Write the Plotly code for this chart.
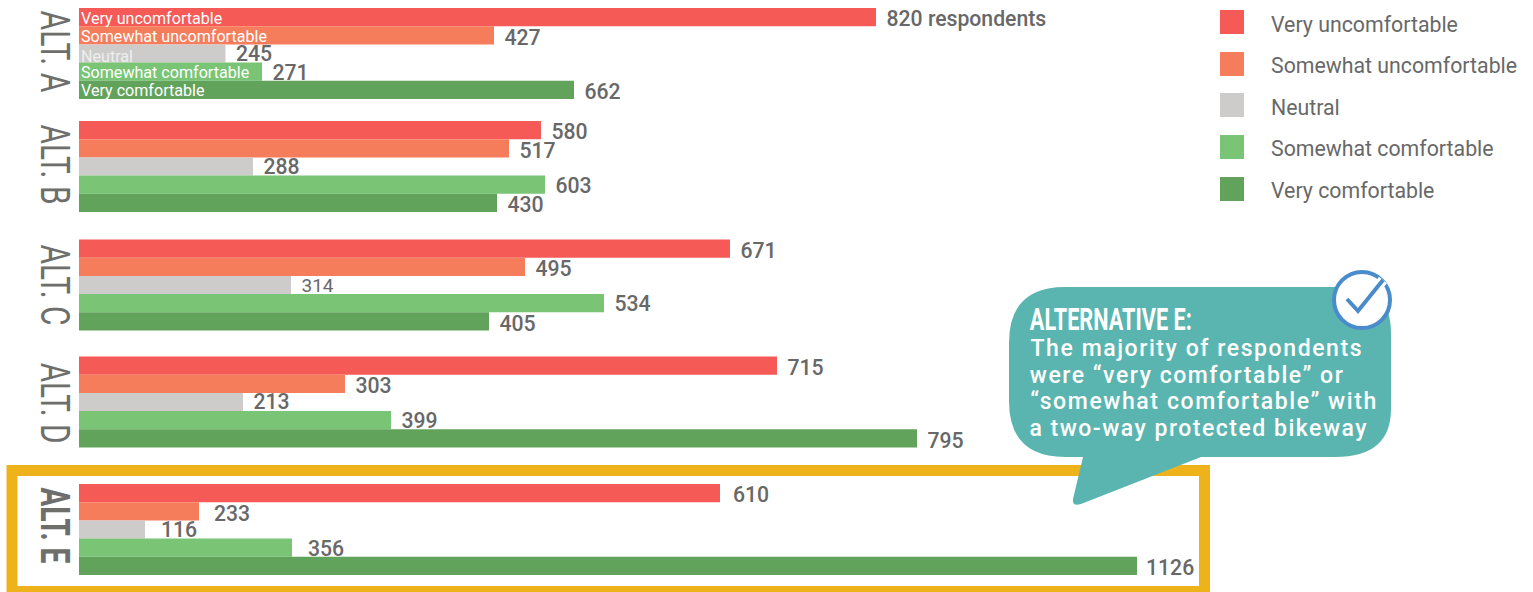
import json
import plotly.graph_objects as go

alternatives = ["ALT. A", "ALT. B", "ALT. C", "ALT. D", "ALT. E"]
alt_label_centres = [51, 164.5, 284.5, 402.5, 525]
alt_label_lengths = [82, 80, 81, 81, 76]
group_centres = [53.5, 166.5, 285, 402, 529.5]
categories = ["Very uncomfortable", "Somewhat uncomfortable", "Neutral", "Somewhat comfortable", "Very comfortable"]
colors = ["#F55A56", "#F67D5B", "#CDCCCB", "#79C475", "#62A35B"]
swatch_rows = [22, 64, 105, 147, 189]
legend_text_rows = [27, 68, 110, 151, 193]

# printed values
very_uncomfortable = [820, 580, 671, 715, 610]
somewhat_uncomfortable = [427, 517, 495, 303, 233]
neutral = [245, 288, 314, 213, 116]
somewhat_comfortable = [271, 603, 534, 399, 356]
very_comfortable = [662, 430, 405, 795, 1126]
printed = [very_uncomfortable, somewhat_uncomfortable, neutral, somewhat_comfortable, very_comfortable]

# bar lengths as drawn in the picture (the original is not to scale)
drawn_very_uncomfortable = [797, 462, 651, 698, 641]
drawn_somewhat_uncomfortable = [415, 430, 446, 266, 120]
drawn_neutral = [146.5, 174, 212, 164, 66]
drawn_somewhat_comfortable = [183, 466, 525, 312, 213]
drawn_very_comfortable = [495, 418, 410, 838, 1058]
drawn = [drawn_very_uncomfortable, drawn_somewhat_uncomfortable, drawn_neutral,
         drawn_somewhat_comfortable, drawn_very_comfortable]

# label placement relative to each bar
label_gap = [10.5, 10.5, 10.5, 10.5]
label_gap_last_group = [13, 15, 16, 16, 9]
label_nudge = [4, 4, 2, 3, 4]
inbar_nudge = [1, 1, 2.5, 1, 0.5]

callout_title = "ALTERNATIVE E:"
callout_lines = ["The majority of respondents", "were “very comfortable” or",
                 "“somewhat comfortable” with", "a two-way protected bikeway"]
callout_widths = [331, 313, 346, 337]

TXT = "#686868"
BAND = 18.2
ORIGIN = 79  # page pixel of the value axis zero


def X(px):
    return px - ORIGIN


def P(*pts):
    out = []
    for p in pts:
        if isinstance(p, str):
            out.append(p)
        else:
            out.append(f"{X(p[0])} {p[1]}")
    return " ".join(out)


fig = go.Figure()

for s, name in enumerate(categories):
    fig.add_trace(go.Bar(
        name=name, orientation="h", x=drawn[s], y=group_centres,
        marker=dict(color=colors[s], line=dict(width=0)), showlegend=False,
    ))

for s, name in enumerate(categories):
    gaps = label_gap + [label_gap_last_group[s]]
    labels = [str(v) for v in printed[s]]
    if s == 0:
        labels[0] += " respondents"
    fig.add_trace(go.Scatter(
        x=[d + g for d, g in zip(drawn[s], gaps)],
        y=[c + (s - 2) * BAND + label_nudge[s] for c in group_centres],
        mode="text", text=labels, textposition="middle right", showlegend=False, cliponaxis=False,
        textfont=dict(family="Roboto", size=[19 if v == 314 else 21.2 for v in printed[s]], color=TXT,
                      weight=[400 if v == 314 else 500 for v in printed[s]]),
    ))

# legend drawn as chart marks
fig.add_trace(go.Scatter(x=[X(1232)] * 5, y=swatch_rows, mode="markers", showlegend=False,
                         marker=dict(symbol="square", size=24, color=colors, line=dict(width=0))))
fig.add_trace(go.Scatter(x=[X(1271)] * 5, y=legend_text_rows, mode="text", text=categories, showlegend=False,
                         textposition="middle right",
                         textfont=dict(family="Roboto", size=21.3, color=TXT)))

annotations = []
for a, c in zip(alternatives, alt_label_centres):
    annotations.append(dict(x=X(55), y=c, xref="x", yref="y", text=a, textangle=90, showarrow=False,
                            xanchor="center", yanchor="middle",
                            font=dict(family="Roboto", size=41, color="#6E6E6C",
                                      weight=700 if a.endswith("E") else 400)))
# in-bar category labels for the first group
for i, name in enumerate(categories):
    annotations.append(dict(x=0, y=group_centres[0] + (i - 2) * BAND + inbar_nudge[i], xref="x", yref="y", text=name,
                            showarrow=False, xanchor="left", yanchor="middle",
                            font=dict(family="Roboto", size=16.1, color="#EEEEEE" if i == 2 else "white")))
annotations.append(dict(x=X(1111), y=319, xref="x", yref="y", text=callout_title, showarrow=False,
                        xanchor="center", yanchor="middle",
                        font=dict(family="Roboto", size=31, color="white", weight=700)))
for i, line in enumerate(callout_lines):
    annotations.append(dict(x=X(1030 + callout_widths[i] / 2), y=348.5 + i * 26.6, xref="x", yref="y", text=line,
                            showarrow=False, xanchor="center", yanchor="middle",
                            font=dict(family="Roboto", size=23, color="white", weight=500)))

bubble = P("M", (1060, 287), "L", (1345, 287), "Q", (1391, 287), (1391, 333), "L", (1391, 409), "Q", (1391, 457), (1335, 457),
           "L", (1201, 457), "L", (1081, 504), "Q", (1072, 507), (1073, 499), "L", (1083, 457), "L", (1065, 457),
           "Q", (1009, 457), (1009, 401), "L", (1009, 343), "Q", (1009, 287), (1065, 287), "Z")
check = P("M", (1347, 299), "L", (1358, 311), "L", (1383, 280))
shapes = [
    dict(type="rect", x0=X(12), x1=X(1204.5), y0=470.5, y1=591.5, xref="x", yref="y",
         line=dict(color="#EEB31B", width=11), fillcolor="rgba(0,0,0,0)"),
    dict(type="path", path=bubble, xref="x", yref="y", fillcolor="#5AB5B0", line=dict(width=0)),
    dict(type="circle", x0=X(1334), x1=X(1390), y0=272, y1=328, xref="x", yref="y",
         fillcolor="white", line=dict(color="#4A8CCB", width=4)),
    dict(type="path", path=check, xref="x", yref="y", line=dict(color="white", width=10)),
    dict(type="path", path=check, xref="x", yref="y", line=dict(color="#4A8CCB", width=4)),
]

fig.update_layout(
    width=1533, height=592, margin=dict(l=0, r=0, t=0, b=0),
    paper_bgcolor="white", plot_bgcolor="white",
    barmode="group", bargap=0.195, bargroupgap=0,
    xaxis=dict(range=[-ORIGIN, 1533 - ORIGIN], visible=False, fixedrange=True),
    yaxis=dict(range=[592, 0], visible=False, fixedrange=True),
    annotations=annotations, shapes=shapes, showlegend=False,
)

fit = {a: [n, "spacingAndGlyphs"] for a, n in zip(alternatives, alt_label_lengths)}
fit[callout_title] = [162, "spacingAndGlyphs"]
for line, w in zip(callout_lines, callout_widths):
    fit[line] = [w, "spacing"]
post = """
document.body.style.margin = '0';
document.body.style.overflow = 'hidden';
var fit = %s;
document.querySelectorAll('.annotation-text').forEach(function (t) {
  var f = fit[t.textContent];
  if (f) { t.setAttribute('textLength', f[0]); t.setAttribute('lengthAdjust', f[1]); }
});
""" % json.dumps(fit, ensure_ascii=False)
fig.write_html("out.html", config=dict(displayModeBar=False), post_script=post)
